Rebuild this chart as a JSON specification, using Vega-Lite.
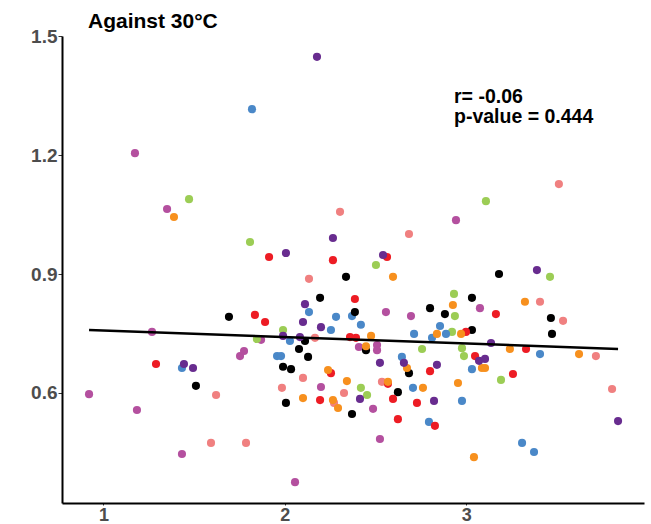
{
  "$schema": "https://vega.github.io/schema/vega-lite/v6.json",
  "width": 582,
  "height": 467,
  "autosize": {"type": "none"},
  "padding": {"left": 62, "top": 36, "right": 7, "bottom": 21},
  "background": "white",
  "config": {"view": {"stroke": null}, "font": "Liberation Sans"},
  "title": {"text": "Against 30°C", "anchor": "start", "frame": "group", "dx": 26, "dy": 30, "offset": 4, "fontSize": 21, "fontWeight": "bold", "color": "black", "font": "Liberation Sans", "baseline": "bottom"},
  "datasets": {
    "pts": [
      {"x":0.921,"y":0.597,"g":"A"},{"x":1.185,"y":0.557,"g":"A"},{"x":1.433,"y":0.446,"g":"A"},{"x":2.056,"y":0.375,"g":"A"},{"x":1.268,"y":0.754,"g":"A"},{"x":1.753,"y":0.693,"g":"A"},{"x":1.775,"y":0.706,"g":"A"},{"x":1.869,"y":0.734,"g":"A"},{"x":1.174,"y":1.205,"g":"A"},{"x":1.351,"y":1.064,"g":"A"},{"x":2.943,"y":1.036,"g":"A"},{"x":2.199,"y":0.615,"g":"A"},{"x":2.557,"y":0.804,"g":"A"},{"x":2.408,"y":0.716,"g":"A"},{"x":2.508,"y":0.721,"g":"A"},{"x":2.508,"y":0.708,"g":"A"},{"x":2.486,"y":0.560,"g":"A"},{"x":2.524,"y":0.484,"g":"A"},{"x":2.695,"y":0.794,"g":"A"},{"x":3.075,"y":0.814,"g":"A"},
      {"x":1.593,"y":0.474,"g":"B"},{"x":1.786,"y":0.474,"g":"B"},{"x":1.621,"y":0.595,"g":"B"},{"x":1.984,"y":0.613,"g":"B"},{"x":2.133,"y":0.888,"g":"B"},{"x":2.166,"y":0.739,"g":"B"},{"x":2.100,"y":0.638,"g":"B"},{"x":2.304,"y":1.057,"g":"B"},{"x":2.684,"y":1.001,"g":"B"},{"x":3.510,"y":1.127,"g":"B"},{"x":2.326,"y":0.600,"g":"B"},{"x":2.535,"y":0.628,"g":"B"},{"x":2.271,"y":0.575,"g":"B"},{"x":3.406,"y":0.830,"g":"B"},{"x":3.533,"y":0.782,"g":"B"},{"x":3.714,"y":0.693,"g":"B"},{"x":3.803,"y":0.610,"g":"B"},
      {"x":1.472,"y":1.089,"g":"C"},{"x":1.808,"y":0.981,"g":"C"},{"x":1.846,"y":0.736,"g":"C"},{"x":1.990,"y":0.759,"g":"C"},{"x":2.502,"y":0.923,"g":"C"},{"x":3.108,"y":1.084,"g":"C"},{"x":3.461,"y":0.893,"g":"C"},{"x":2.932,"y":0.850,"g":"C"},{"x":2.937,"y":0.794,"g":"C"},{"x":2.921,"y":0.754,"g":"C"},{"x":2.756,"y":0.711,"g":"C"},{"x":2.976,"y":0.713,"g":"C"},{"x":2.987,"y":0.693,"g":"C"},{"x":3.191,"y":0.633,"g":"C"},{"x":2.419,"y":0.613,"g":"C"},{"x":2.453,"y":0.595,"g":"C"},
      {"x":1.819,"y":1.316,"g":"D"},{"x":1.433,"y":0.663,"g":"D"},{"x":1.957,"y":0.693,"g":"D"},{"x":1.979,"y":0.693,"g":"D"},{"x":2.028,"y":0.731,"g":"D"},{"x":2.133,"y":0.804,"g":"D"},{"x":2.254,"y":0.759,"g":"D"},{"x":2.282,"y":0.792,"g":"D"},{"x":2.370,"y":0.794,"g":"D"},{"x":2.419,"y":0.772,"g":"D"},{"x":2.712,"y":0.749,"g":"D"},{"x":2.855,"y":0.769,"g":"D"},{"x":2.811,"y":0.739,"g":"D"},{"x":2.888,"y":0.749,"g":"D"},{"x":3.406,"y":0.698,"g":"D"},{"x":2.645,"y":0.691,"g":"D"},{"x":3.031,"y":0.660,"g":"D"},{"x":2.706,"y":0.613,"g":"D"},{"x":2.976,"y":0.580,"g":"D"},{"x":2.794,"y":0.527,"g":"D"},{"x":3.307,"y":0.474,"g":"D"},{"x":3.373,"y":0.451,"g":"D"},
      {"x":1.510,"y":0.618,"g":"E"},{"x":1.692,"y":0.792,"g":"E"},{"x":1.990,"y":0.666,"g":"E"},{"x":2.034,"y":0.660,"g":"E"},{"x":2.006,"y":0.575,"g":"E"},{"x":2.194,"y":0.840,"g":"E"},{"x":2.111,"y":0.731,"g":"E"},{"x":2.078,"y":0.711,"g":"E"},{"x":2.128,"y":0.691,"g":"E"},{"x":2.337,"y":0.893,"g":"E"},{"x":2.386,"y":0.804,"g":"E"},{"x":2.447,"y":0.708,"g":"E"},{"x":2.800,"y":0.814,"g":"E"},{"x":2.882,"y":0.799,"g":"E"},{"x":3.031,"y":0.840,"g":"E"},{"x":3.031,"y":0.759,"g":"E"},{"x":3.180,"y":0.900,"g":"E"},{"x":3.466,"y":0.789,"g":"E"},{"x":3.472,"y":0.749,"g":"E"},{"x":2.684,"y":0.650,"g":"E"},{"x":2.623,"y":0.602,"g":"E"},{"x":2.370,"y":0.547,"g":"E"},
      {"x":1.290,"y":0.673,"g":"F"},{"x":1.835,"y":0.797,"g":"F"},{"x":1.891,"y":0.779,"g":"F"},{"x":1.913,"y":0.943,"g":"F"},{"x":2.265,"y":0.935,"g":"F"},{"x":2.563,"y":0.943,"g":"F"},{"x":2.386,"y":0.837,"g":"F"},{"x":2.359,"y":0.741,"g":"F"},{"x":2.392,"y":0.739,"g":"F"},{"x":2.254,"y":0.650,"g":"F"},{"x":2.194,"y":0.582,"g":"F"},{"x":2.568,"y":0.623,"g":"F"},{"x":2.596,"y":0.585,"g":"F"},{"x":2.623,"y":0.534,"g":"F"},{"x":2.728,"y":0.575,"g":"F"},{"x":2.827,"y":0.517,"g":"F"},{"x":2.800,"y":0.655,"g":"F"},{"x":2.998,"y":0.754,"g":"F"},{"x":3.163,"y":0.799,"g":"F"},{"x":3.048,"y":0.693,"g":"F"},{"x":3.329,"y":0.711,"g":"F"},{"x":3.257,"y":0.648,"g":"F"},
      {"x":1.389,"y":1.044,"g":"G"},{"x":2.596,"y":0.893,"g":"G"},{"x":2.100,"y":0.587,"g":"G"},{"x":2.238,"y":0.658,"g":"G"},{"x":2.475,"y":0.744,"g":"G"},{"x":2.447,"y":0.718,"g":"G"},{"x":2.342,"y":0.630,"g":"G"},{"x":2.568,"y":0.628,"g":"G"},{"x":2.265,"y":0.582,"g":"G"},{"x":2.293,"y":0.562,"g":"G"},{"x":2.926,"y":0.822,"g":"G"},{"x":2.838,"y":0.749,"g":"G"},{"x":2.971,"y":0.749,"g":"G"},{"x":2.673,"y":0.663,"g":"G"},{"x":2.761,"y":0.613,"g":"G"},{"x":2.954,"y":0.625,"g":"G"},{"x":3.086,"y":0.663,"g":"G"},{"x":3.103,"y":0.663,"g":"G"},{"x":3.240,"y":0.711,"g":"G"},{"x":3.323,"y":0.830,"g":"G"},{"x":3.621,"y":0.698,"g":"G"},{"x":3.042,"y":0.438,"g":"G"},
      {"x":2.177,"y":1.448,"g":"H"},{"x":2.006,"y":0.953,"g":"H"},{"x":2.265,"y":0.991,"g":"H"},{"x":2.541,"y":0.948,"g":"H"},{"x":1.444,"y":0.673,"g":"H"},{"x":1.494,"y":0.663,"g":"H"},{"x":1.990,"y":0.744,"g":"H"},{"x":2.111,"y":0.824,"g":"H"},{"x":2.100,"y":0.779,"g":"H"},{"x":2.199,"y":0.766,"g":"H"},{"x":2.083,"y":0.741,"g":"H"},{"x":2.524,"y":0.676,"g":"H"},{"x":2.414,"y":0.585,"g":"H"},{"x":3.389,"y":0.910,"g":"H"},{"x":3.136,"y":0.726,"g":"H"},{"x":2.656,"y":0.676,"g":"H"},{"x":2.838,"y":0.671,"g":"H"},{"x":3.070,"y":0.681,"g":"H"},{"x":3.103,"y":0.686,"g":"H"},{"x":2.822,"y":0.580,"g":"H"},{"x":3.836,"y":0.529,"g":"H"}
    ],
    "fit": [{"x":0.921,"y":0.759},{"x":3.836,"y":0.711}],
    "ann": [{"x":2.932,"y":1.332,"label":"r= -0.06\np-value = 0.444"}]
  },
  "layer": [
    {
      "data": {"name": "pts"},
      "mark": {"type": "circle", "size": 66, "opacity": 1},
      "encoding": {
        "x": {"field": "x", "type": "quantitative", "title": null,
              "scale": {"domain": [0.772, 3.979], "nice": false, "zero": false},
              "axis": {"values": [1, 2, 3], "format": "d", "grid": false, "domainColor": "black", "domainWidth": 2, "tickColor": "#333333", "tickSize": 2, "tickWidth": 1, "labelFontSize": 18, "labelFontWeight": "bold", "labelColor": "#4d4d4d", "labelPadding": 1, "labelFont": "Liberation Sans"}},
        "y": {"field": "y", "type": "quantitative", "title": null,
              "scale": {"domain": [0.3224, 1.5006], "nice": false, "zero": false},
              "axis": {"values": [0.6, 0.9, 1.2, 1.5], "format": ".1f", "grid": false, "domainColor": "black", "domainWidth": 2, "tickColor": "#333333", "tickSize": 4, "tickWidth": 1, "labelFontSize": 19, "labelFontWeight": "bold", "labelColor": "#4d4d4d", "labelPadding": 1, "labelFont": "Liberation Sans"}},
        "color": {"field": "g", "type": "nominal", "legend": null,
                  "scale": {"domain": ["A","B","C","D","E","F","G","H"], "range": ["#b4509f","#f08080","#9ccd55","#4a88c8","#000000","#ed1c24","#f7901e","#682c8f"]}}
      }
    },
    {
      "data": {"name": "fit"},
      "mark": {"type": "line", "color": "black", "strokeWidth": 2.5},
      "encoding": {
        "x": {"field": "x", "type": "quantitative", "title": null},
        "y": {"field": "y", "type": "quantitative", "title": null}
      }
    },
    {
      "data": {"name": "ann"},
      "mark": {"type": "text", "align": "left", "baseline": "alphabetic", "fontSize": 19.5, "fontWeight": "bold", "color": "black", "font": "Liberation Sans", "lineBreak": "\n", "lineHeight": 20},
      "encoding": {
        "x": {"field": "x", "type": "quantitative", "title": null},
        "y": {"field": "y", "type": "quantitative", "title": null},
        "text": {"field": "label"}
      }
    }
  ]
}
